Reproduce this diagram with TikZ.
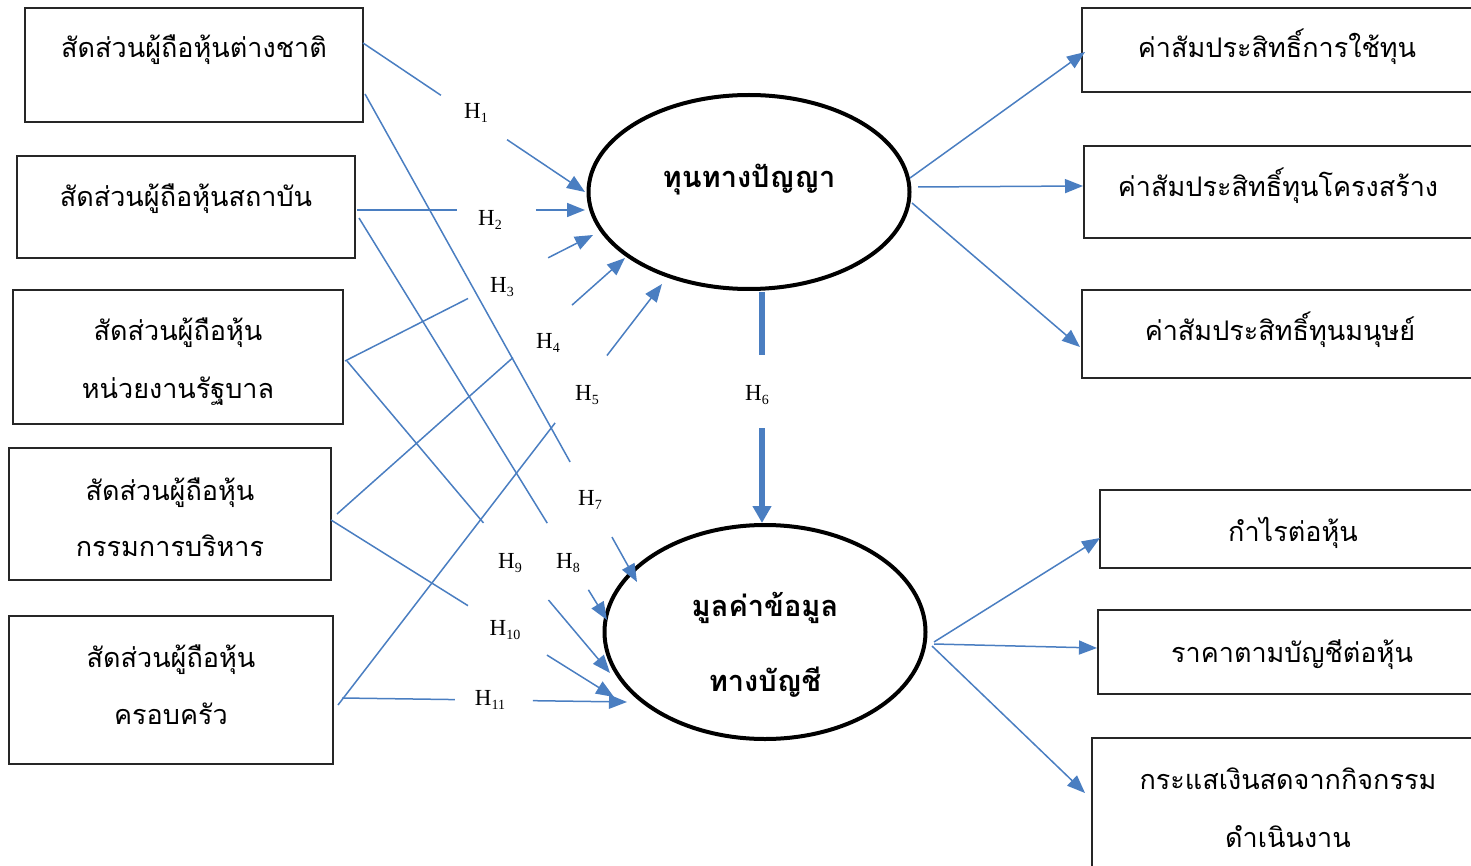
\documentclass[tikz,border=0pt]{standalone}
\usepackage{fontspec}
\setmainfont{Liberation Serif}
\newfontfamily\thaifont[Script=Thai]{Loma}
\usetikzlibrary{arrows.meta,calc,shapes.geometric}
\definecolor{linkblue}{RGB}{74,126,193}
\newcommand{\hypo}[1]{H\raisebox{-0.35ex}{\fontsize{14}{15}\selectfont #1}}

\begin{document}
\begin{tikzpicture}[x=1pt,y=-1pt,
  box/.style={draw=black!85, line width=1.1pt, rectangle, inner sep=0},
  txt/.style={font=\thaifont\fontsize{27}{30}\selectfont, inner sep=0, anchor=base},
  latenttxt/.style={font=\thaifont\bfseries\fontsize{29}{32}\selectfont, inner sep=0, anchor=base},
  latent/.style={draw=black, line width=4pt, ellipse, inner sep=0},
  link/.style={draw=linkblue, line width=1.5pt},
  arr/.style={link, -{Triangle[length=18pt,width=14pt]}},
  hyp/.style={font=\fontsize{23}{26}\selectfont, inner sep=0},
]
\useasboundingbox (0,0) rectangle (1471,866);
\clip (0,0) rectangle (1471,866);

% ---- observed variables (left)
\node[box, minimum width=338, minimum height=114] (b1) at (194,65) {};
\node[box, minimum width=338, minimum height=102] (b2) at (186,207) {};
\node[box, minimum width=330, minimum height=134] (b3) at (178,357) {};
\node[box, minimum width=322, minimum height=132] (b4) at (170,514) {};
\node[box, minimum width=324, minimum height=148] (b5) at (171,690) {};

\node[txt] (b1t)  at (194,58)  {สัดส่วนผู้ถือหุ้นต่างชาติ};
\node[txt] (b2t)  at (186,207) {สัดส่วนผู้ถือหุ้นสถาบัน};
\node[txt] (b3t)  at (178,341) {สัดส่วนผู้ถือหุ้น};
\node[txt] (b3u)  at (178,398) {หน่วยงานรัฐบาล};
\node[txt] (b4t)  at (170,500) {สัดส่วนผู้ถือหุ้น};
\node[txt] (b4u)  at (170,556) {กรรมการบริหาร};
\node[txt] (b5t)  at (171,667) {สัดส่วนผู้ถือหุ้น};
\node[txt] (b5u)  at (171,724) {ครอบครัว};

% ---- indicators (right)
\node[box, minimum width=438, minimum height=84]  (r1) at (1301,50)  {};
\node[box, minimum width=436, minimum height=92]  (r2) at (1302,192) {};
\node[box, minimum width=438, minimum height=88]  (r3) at (1301,334) {};
\node[box, minimum width=420, minimum height=78]  (r4) at (1310,529) {};
\node[box, minimum width=422, minimum height=84]  (r5) at (1309,652) {};
\node[box, minimum width=428, minimum height=162] (r6) at (1306,819) {};

\node[txt] (r1t) at (1277,58)  {ค่าสัมประสิทธิ์การใช้ทุน};
\node[txt] (r2t) at (1278,197) {ค่าสัมประสิทธิ์ทุนโครงสร้าง};
\node[txt] (r3t) at (1280,341) {ค่าสัมประสิทธิ์ทุนมนุษย์};
\node[txt] (r4t) at (1293,541) {กำไรต่อหุ้น};
\node[txt] (r5t) at (1292,662) {ราคาตามบัญชีต่อหุ้น};
\node[txt] (r6t) at (1288,789) {กระแสเงินสดจากกิจกรรม};
\node[txt] (r6u) at (1288,847) {ดำเนินงาน};

% ---- latent variables
\node[latent, minimum width=321, minimum height=194] (ic) at (749,192) {};
\node[latent, minimum width=321, minimum height=214] (ai) at (765,632) {};
\node[latenttxt] (ict) at (749,188) {ทุนทางปัญญา};
\node[latenttxt] (ait) at (765,616) {มูลค่าข้อมูล};
\node[latenttxt] (aiu) at (765,691) {ทางบัญชี};

% ---- hypothesis labels
\node[hyp] (h1)  at (476,113) {\hypo{1}};
\node[hyp] (h2)  at (490,220) {\hypo{2}};
\node[hyp] (h3)  at (502,287) {\hypo{3}};
\node[hyp] (h4)  at (548,343) {\hypo{4}};
\node[hyp] (h5)  at (587,395) {\hypo{5}};
\node[hyp] (h6)  at (757,395) {\hypo{6}};
\node[hyp] (h7)  at (590,500) {\hypo{7}};
\node[hyp] (h8)  at (568,563) {\hypo{8}};
\node[hyp] (h9)  at (510,563) {\hypo{9}};
\node[hyp] (h10) at (505,630) {\hypo{10}};
\node[hyp] (h11) at (490,700) {\hypo{11}};

% ---- connector end points
\coordinate (s1)  at (363,43);   \coordinate (t1)  at (585,192);
\coordinate (s2)  at (357,210);  \coordinate (t2)  at (585,210);
\coordinate (s3)  at (345,361);  \coordinate (t3)  at (593,235);
\coordinate (s4)  at (337,514);  \coordinate (t4)  at (625,258);
\coordinate (s5)  at (338,705);  \coordinate (t5)  at (662,284);
\coordinate (s6)  at (762,292);  \coordinate (t6)  at (762,523);
\coordinate (s7)  at (365,94);   \coordinate (t7)  at (637,582);
\coordinate (s8)  at (359,218);  \coordinate (t8)  at (607,620);
\coordinate (s9)  at (347,361);  \coordinate (t9)  at (610,673);
\coordinate (s10) at (331,520);  \coordinate (t10) at (614,697);
\coordinate (s11) at (342,698);  \coordinate (t11) at (627,702);

% each path is broken where its hypothesis label sits
\foreach \i/\a/\b in {1/0.351/0.649, 2/0.439/0.785, 3/0.496/0.819,
                      4/0.611/0.816, 5/0.670/0.830, 7/0.754/0.908,
                      8/0.759/0.925, 9/0.519/0.766, 10/0.484/0.763,
                      11/0.396/0.670}{
  \draw[link] (s\i) -- ($(s\i)!\a!(t\i)$);
  \draw[arr]  ($(s\i)!\b!(t\i)$) -- (t\i);
}
\draw[link, line width=6pt] (s6) -- ($(s6)!0.273!(t6)$);
\draw[link, line width=6pt, -{Triangle[length=17pt,width=18pt]}] ($(s6)!0.589!(t6)$) -- (t6);

% ---- measurement paths
\coordinate (o1) at (910,178);  \coordinate (e1) at (1085,52);
\coordinate (o2) at (918,187);  \coordinate (e2) at (1083,186);
\coordinate (o3) at (912,203);  \coordinate (e3) at (1080,347);
\coordinate (o4) at (934,642);  \coordinate (e4) at (1100,538);
\coordinate (o5) at (934,644);  \coordinate (e5) at (1097,648);
\coordinate (o6) at (932,646);  \coordinate (e6) at (1085,793);
\foreach \i in {1,...,6}{ \draw[arr] (o\i) -- (e\i); }
\end{tikzpicture}
\end{document}
